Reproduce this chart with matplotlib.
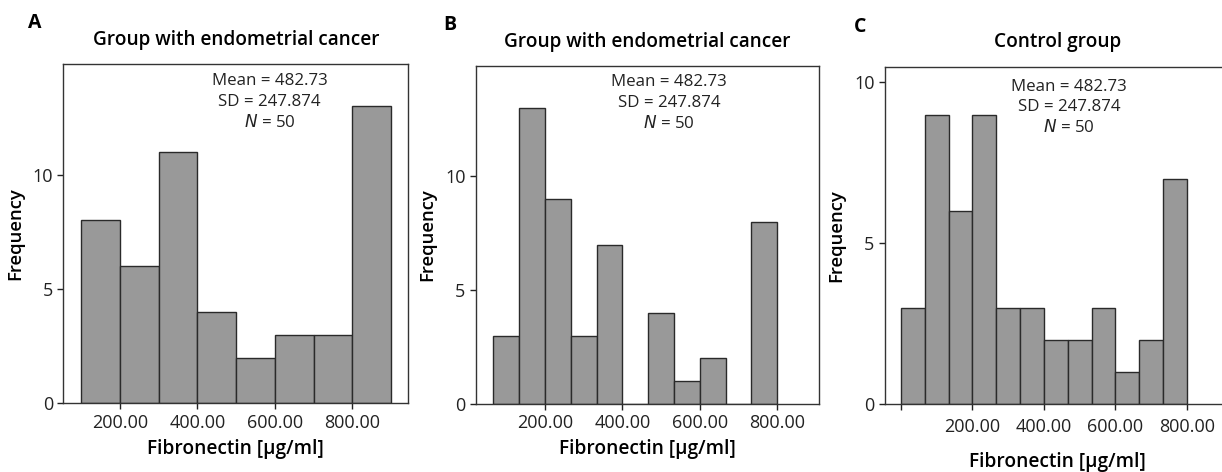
import matplotlib
matplotlib.use("Agg")
import matplotlib.pyplot as plt

plt.rcParams['font.family'] = ['Open Sans', 'DejaVu Sans']

# panel A: bins of 100 from 100 to 900
a_edges = [100, 200, 300, 400, 500, 600, 700, 800, 900]
a_counts = [8, 6, 11, 4, 2, 3, 3, 13]

# panel B: bins of 66.67 from 66.67 to 800
b_edges = [66.67, 133.33, 200, 266.67, 333.33, 400, 466.67, 533.33, 600, 666.67, 733.33, 800]
b_counts = [3, 13, 9, 3, 7, 0, 4, 1, 2, 0, 8]

# panel C: bins of 66.67 from 0 to 800
c_edges = [0, 66.67, 133.33, 200, 266.67, 333.33, 400, 466.67, 533.33, 600, 666.67, 733.33, 800]
c_counts = [3, 9, 6, 9, 3, 3, 2, 2, 3, 1, 2, 7]

titles = ["Group with endometrial cancer", "Group with endometrial cancer", "Control group"]
letters = ["A", "B", "C"]
stats = "Mean = 482.73\nSD = 247.874\n$\\mathit{N}$ = 50"
xlab = "Fibronectin [µg/ml]"

fig = plt.figure(figsize=(12.22, 4.72), dpi=100)

panels = [
    dict(edges=a_edges, counts=a_counts, pos=[0.0518, 0.1456, 0.2823, 0.7189],
         xlim=(53.5, 944.7), ylim=(0, 14.84), xticks=[200, 400, 600, 800],
         xticklabels=["200.00", "400.00", "600.00", "800.00"], yticks=[0, 5, 10],
         stx=0.598, sty=0.972, xpad=5, tpad=3.5),
    dict(edges=b_edges, counts=b_counts, pos=[0.3895, 0.1441, 0.2809, 0.716],
         xlim=(22, 908.5), ylim=(0, 14.84), xticks=[200, 400, 600, 800],
         xticklabels=["200.00", "400.00", "600.00", "800.00"], yticks=[0, 5, 10],
         stx=0.563, sty=0.975, xpad=5, tpad=3.5),
    dict(edges=c_edges, counts=c_counts, pos=[0.7242, 0.1434, 0.2823, 0.7153],
         xlim=(-45, 921), ylim=(0, 10.49), xticks=[0, 200, 400, 600, 800],
         xticklabels=["", "200.00", "400.00", "600.00", "800.00"], yticks=[0, 5, 10],
         stx=0.534, sty=0.965, xpad=12, tpad=5.5),
]

for i, p in enumerate(panels):
    ax = fig.add_axes(p["pos"])
    e = p["edges"]
    widths = [e[k + 1] - e[k] for k in range(len(e) - 1)]
    ax.bar(e[:-1], p["counts"], width=widths, align="edge",
           color="#999999", edgecolor="#2a2a2a", linewidth=1.0)
    ax.set_xlim(*p["xlim"])
    ax.set_ylim(*p["ylim"])
    ax.set_xticks(p["xticks"])
    ax.set_xticklabels(p["xticklabels"])
    ax.set_yticks(p["yticks"])
    ax.tick_params(direction="out", length=4, width=1, labelsize=13, colors="#222222")
    ax.tick_params(axis="x", pad=p["tpad"])
    for sp in ax.spines.values():
        sp.set_linewidth(1.0)
        sp.set_color("#333333")
    ax.set_ylabel("Frequency", fontsize=13.3, fontweight="semibold", labelpad=6)
    ax.set_xlabel(xlab, fontsize=13.8, fontweight="semibold", labelpad=p["xpad"])
    ax.set_title(titles[i], fontsize=13.7, fontweight="semibold", pad=14)
    ax.text(p["stx"], p["sty"], stats, transform=ax.transAxes, ha="center", va="top",
            fontsize=12.2, color="#222222", linespacing=1.35)

fig.text(35 / 1222, 1 - 23 / 472, "A", fontsize=14, fontweight="bold", ha="center", va="center")
fig.text(450 / 1222, 1 - 25 / 472, "B", fontsize=14, fontweight="bold", ha="center", va="center")
fig.text(860 / 1222, 1 - 27 / 472, "C", fontsize=14, fontweight="bold", ha="center", va="center")

fig.savefig("out.png", dpi=100)
